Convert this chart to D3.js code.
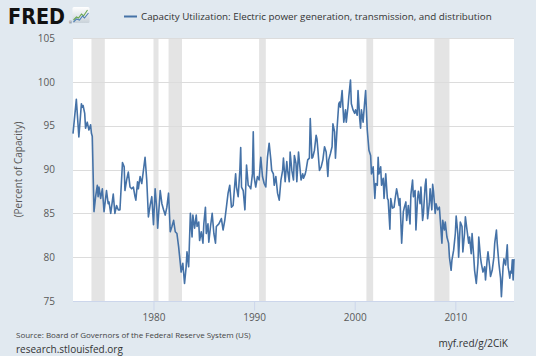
<!DOCTYPE html>
<html><head><meta charset="utf-8">
<script src="https://cdn.jsdelivr.net/npm/d3@7"></script>
<style>html,body{margin:0;padding:0;background:#e1e9f0;}svg{display:block;}</style>
</head><body>
<svg id="chart" width="536" height="356"></svg>
<script>
const title = "Capacity Utilization: Electric power generation, transmission, and distribution";
const yTitle = "(Percent of Capacity)";
const yTicks = [75, 80, 85, 90, 95, 100, 105];
const xTicks = [1980, 1990, 2000, 2010];
const recStart = ["1973-11","1980-01","1981-07","1990-07","2001-03","2007-12"];
const recEnd   = ["1975-03","1980-07","1982-11","1991-03","2001-11","2009-06"];
const dates = [
"1972-01","1972-05","1972-08","1972-11","1972-12","1973-01","1973-03","1973-04","1973-06","1973-08","1973-10","1973-11","1973-12",
"1974-02","1974-04","1974-06","1974-07","1974-08","1974-10","1974-12","1975-02","1975-05","1975-07","1975-08","1975-10","1975-11",
"1976-01","1976-03","1976-05","1976-07","1976-09","1976-12","1977-02","1977-03","1977-05","1977-07","1977-09","1977-11",
"1978-01","1978-03","1978-04","1978-06","1978-07","1978-09","1978-11","1979-01","1979-03","1979-05","1979-07","1979-09","1979-11",
"1980-01","1980-03","1980-05","1980-06","1980-09","1980-11","1981-01","1981-03","1981-05","1981-07","1981-09","1981-11",
"1982-01","1982-03","1982-05","1982-07","1982-09","1982-10","1982-12","1983-02","1983-04","1983-05","1983-07","1983-09","1983-11","1983-12",
"1984-02","1984-04","1984-05","1984-07","1984-08","1984-10","1984-12","1985-01","1985-03","1985-04","1985-06","1985-07","1985-09","1985-11",
"1986-01","1986-03","1986-04","1986-07","1986-10","1986-12","1987-02","1987-04","1987-06","1987-08","1987-10","1987-12",
"1988-02","1988-03","1988-04","1988-06","1988-08","1988-09","1988-10","1988-12","1989-02","1989-04","1989-06","1989-08","1989-09","1989-11","1989-12",
"1990-01","1990-03","1990-05","1990-07","1990-09","1990-11","1991-01","1991-03","1991-05","1991-07","1991-09","1991-10","1991-12",
"1992-01","1992-03","1992-05","1992-07","1992-09","1992-11","1992-12","1993-02","1993-04","1993-05","1993-07","1993-08","1993-10","1993-12",
"1994-01","1994-03","1994-04","1994-06","1994-08","1994-09","1994-11","1994-12","1995-02","1995-03","1995-05","1995-07","1995-08","1995-10","1995-11",
"1996-01","1996-03","1996-04","1996-05","1996-07","1996-09","1996-11","1997-01","1997-03","1997-05","1997-06","1997-08","1997-10","1997-11",
"1998-01","1998-02","1998-04","1998-06","1998-07","1998-08","1998-10","1998-11","1998-12","1999-02","1999-03","1999-05","1999-06","1999-08","1999-09","1999-11",
"2000-01","2000-02","2000-04","2000-05","2000-07","2000-08","2000-09","2000-11","2001-01","2001-02","2001-03","2001-04","2001-06","2001-08","2001-09","2001-11",
"2002-01","2002-02","2002-04","2002-05","2002-06","2002-08","2002-09","2002-11","2002-12","2003-02","2003-04","2003-05","2003-07","2003-08","2003-10","2003-12",
"2004-01","2004-03","2004-04","2004-06","2004-07","2004-09","2004-11","2004-12","2005-02","2005-03","2005-05","2005-07","2005-08","2005-10","2005-11",
"2006-01","2006-02","2006-04","2006-05","2006-07","2006-08","2006-10","2006-11","2007-01","2007-02","2007-04","2007-06","2007-07","2007-09","2007-10","2007-11",
"2008-01","2008-02","2008-04","2008-06","2008-07","2008-09","2008-10","2008-12","2009-01","2009-03","2009-05","2009-06","2009-08","2009-09","2009-11",
"2010-01","2010-02","2010-04","2010-05","2010-07","2010-09","2010-10","2010-12","2011-01","2011-03","2011-05","2011-06","2011-08","2011-09","2011-11","2011-12",
"2012-02","2012-04","2012-05","2012-07","2012-08","2012-10","2012-12","2013-01","2013-03","2013-04","2013-06","2013-07","2013-09","2013-11","2013-12",
"2014-02","2014-03","2014-05","2014-07","2014-08","2014-10","2014-11","2015-01","2015-03","2015-04","2015-05","2015-06","2015-07","2015-08","2015-09","2015-10","2015-11"
];
const values = [
94.1,98.0,93.7,97.5,97.1,97.3,96.4,94.7,95.4,94.5,95.1,94.1,93.8,
85.2,86.9,88.2,86.9,88.0,86.7,87.8,85.2,87.6,86.1,86.3,85.0,85.7,
87.2,85.0,85.9,85.4,85.4,90.8,90.3,87.6,88.8,89.7,88.0,87.8,
88.0,86.9,86.5,88.6,87.8,89.2,88.4,89.9,91.4,88.8,84.6,85.9,86.9,
83.7,87.8,85.4,83.3,87.6,86.1,85.4,84.8,85.7,87.3,82.9,83.5,
84.2,82.9,82.7,81.2,79.3,78.3,79.3,77.0,78.9,80.6,78.9,85.0,82.3,84.8,
83.3,84.8,83.5,84.0,81.9,82.9,81.6,83.8,85.7,82.7,83.8,81.7,83.5,85.0,
82.7,81.6,83.5,83.8,84.4,83.1,84.2,85.7,87.3,88.2,85.7,85.9,
88.4,89.5,88.0,86.9,89.9,92.5,88.0,87.6,85.4,90.5,88.2,88.0,87.8,89.5,94.3,
89.2,88.0,89.2,88.8,91.4,89.2,88.4,88.0,91.4,93.0,91.1,89.9,89.5,
88.2,89.2,87.3,86.5,88.8,89.9,91.3,88.6,90.9,89.9,88.6,92.0,89.9,88.8,
91.6,90.7,88.6,92.0,89.9,88.8,89.5,89.0,89.5,89.9,91.1,91.3,95.8,91.3,91.4,
92.2,93.9,93.5,92.4,89.9,90.3,91.1,92.6,92.0,89.2,91.1,91.8,92.6,95.2,
94.3,91.3,94.7,97.5,97.7,97.1,99.0,97.1,95.4,96.8,95.4,97.1,98.3,100.2,97.5,96.8,
96.4,96.8,96.2,99.0,95.8,94.7,96.8,95.4,97.9,99.0,96.8,94.5,92.2,91.6,89.5,90.3,
86.7,88.4,88.2,91.4,89.5,90.3,88.2,89.0,86.7,89.5,86.7,86.5,83.2,86.7,85.6,85.7,
86.5,87.8,87.3,85.9,86.7,81.6,85.2,85.6,86.3,84.2,85.9,83.8,87.1,88.8,86.9,
87.6,83.1,86.7,87.5,86.1,88.0,84.2,85.0,88.2,88.9,84.4,86.1,87.8,85.4,88.3,87.5,
85.0,86.1,85.4,85.7,84.4,81.6,84.2,83.1,84.0,82.3,81.6,80.0,78.5,79.7,80.8,
82.7,84.7,82.7,80.0,84.0,83.5,80.6,82.7,84.6,83.1,81.6,82.3,80.4,82.7,80.0,78.5,
77.0,79.3,82.3,80.0,79.3,78.3,78.9,77.4,79.7,80.6,78.9,77.8,78.5,80.0,81.6,
83.1,81.6,79.3,77.6,75.5,78.9,79.8,79.1,81.4,78.9,78.3,77.6,78.4,78.2,79.7,77.4,79.8
];

const parse = d3.timeParse("%Y-%m");
const data = dates.map((d, i) => ({ date: parse(d), value: values[i] }));

const svg = d3.select("#chart");
const W = 536, H = 356;
const pL = 73, pR = 514, pT = 38, pB = 301;
const font = "'Open Sans', sans-serif";

svg.append("rect").attr("width", W).attr("height", H).attr("fill", "#e1e9f0");

const x = d3.scaleTime().domain([data[0].date, data[data.length - 1].date]).range([pL, pR]);
const y = d3.scaleLinear().domain([75, 105]).range([pB, pT]);

svg.append("rect").attr("x", pL).attr("y", pT).attr("width", pR - pL).attr("height", pB - pT).attr("fill", "#ffffff");

// recessions
svg.append("g").selectAll("rect").data(recStart).join("rect")
  .attr("x", (d) => x(parse(d)))
  .attr("y", pT)
  .attr("width", (d, i) => x(parse(recEnd[i])) - x(parse(d)))
  .attr("height", pB - pT)
  .attr("fill", "#e4e4e4");

// gridlines
svg.append("g").selectAll("line").data(yTicks.slice(1)).join("line")
  .attr("x1", pL).attr("x2", pR)
  .attr("y1", (d) => Math.round(y(d)) + 0.5).attr("y2", (d) => Math.round(y(d)) + 0.5)
  .attr("stroke", "#dcdcdc").attr("stroke-width", 1);

// y labels
const yAxis = d3.axisLeft(y).tickValues(yTicks).tickSize(0).tickPadding(0);
const yg = svg.append("g").attr("transform", `translate(${pL - 18},0)`).call(yAxis);
yg.select(".domain").remove();
yg.selectAll("text").attr("font-family", font).attr("font-size", 10).attr("fill", "#595959");

// x axis
const xAxis = d3.axisBottom(x).tickValues(xTicks.map((t) => new Date(t, 0, 1)))
  .tickFormat(d3.timeFormat("%Y")).tickSize(9).tickPadding(3);
const xg = svg.append("g").attr("transform", `translate(0,${pB + 0.5})`).call(xAxis);
xg.select(".domain").attr("d", `M${pL},0H${pR}`).attr("stroke", "#ccd6eb");
xg.selectAll(".tick line").attr("stroke", "#ccd6eb");
xg.selectAll("text").attr("font-family", font).attr("font-size", 10).attr("fill", "#595959");

// y title
svg.append("text").attr("transform", `translate(22,${(pT + pB) / 2}) rotate(-90)`)
  .attr("text-anchor", "middle").attr("font-family", font).attr("font-size", 10).attr("fill", "#595959")
  .text(yTitle);

// line
svg.append("path").datum(data)
  .attr("d", d3.line().x((d) => x(d.date)).y((d) => y(d.value)))
  .attr("fill", "none").attr("stroke", "#4572a7").attr("stroke-width", 1.6).attr("stroke-linejoin", "round");

// header logo
svg.append("text").attr("x", 8).attr("y", 24).attr("font-family", "'DejaVu Sans', sans-serif")
  .attr("font-weight", 900).attr("font-size", 21).attr("fill", "#111").attr("textLength", 57).attr("lengthAdjust", "spacingAndGlyphs")
  .text("FRED");
svg.append("text").attr("x", 69).attr("y", 24).attr("font-family", font).attr("font-size", 3.5).attr("fill", "#333").text("®");
const grad = svg.append("defs").append("linearGradient").attr("id", "ig").attr("x1", 0).attr("y1", 0).attr("x2", 0).attr("y2", 1);
grad.append("stop").attr("offset", "0").attr("stop-color", "#ffffff");
grad.append("stop").attr("offset", "1").attr("stop-color", "#c9d2d9");
svg.append("rect").attr("x", 72.5).attr("y", 7).attr("width", 17).attr("height", 16).attr("rx", 1.5).attr("fill", "url(#ig)");
svg.append("path").attr("d", "M73.5,20 L76.5,17 L78.5,18 L81.5,14 L83.5,16 L87.5,10").attr("fill", "none").attr("stroke", "#6aa84f").attr("stroke-width", 1.1);
svg.append("path").attr("d", "M73.5,22 L76.5,19 L79.5,20 L82.5,16 L84.5,18 L88.5,13").attr("fill", "none").attr("stroke", "#4f7fb5").attr("stroke-width", 1.1);

// legend
svg.append("line").attr("x1", 124).attr("x2", 137).attr("y1", 16.5).attr("y2", 16.5).attr("stroke", "#4572a7").attr("stroke-width", 2);
svg.append("text").attr("x", 141).attr("y", 20).attr("font-family", font).attr("font-size", 9.8).attr("fill", "#333")
  .text(title);

// footer
svg.append("text").attr("x", 16).attr("y", 338).attr("font-family", font).attr("font-size", 8).attr("fill", "#444")
  .text("Source: Board of Governors of the Federal Reserve System (US)");
svg.append("text").attr("x", 16).attr("y", 353).attr("font-family", font).attr("font-size", 10).attr("fill", "#333")
  .text("research.stlouisfed.org");
svg.append("text").attr("x", 508).attr("y", 347).attr("text-anchor", "end").attr("font-family", font).attr("font-size", 10).attr("fill", "#333")
  .text("myf.red/g/2CiK");
</script>
</body></html>
